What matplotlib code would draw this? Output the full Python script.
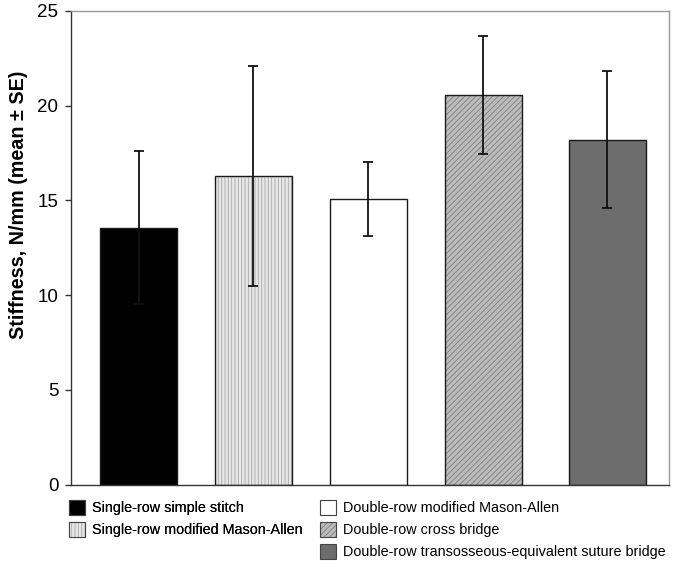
import matplotlib
matplotlib.use("Agg")
import matplotlib.pyplot as plt
import numpy as np
from matplotlib.patches import Patch

plt.rcParams['font.family'] = ['Liberation Sans', 'DejaVu Sans']
plt.rcParams['hatch.linewidth'] = 0.6

categories = ["Single-row simple stitch",
              "Single-row modified Mason-Allen",
              "Double-row modified Mason-Allen",
              "Double-row cross bridge",
              "Double-row transosseous-equivalent suture bridge"]
means = [13.57, 16.28, 15.06, 20.57, 18.2]
se = [4.05, 5.8, 1.95, 3.1, 3.6]
yticks = [0, 5, 10, 15, 20, 25]

faces = ['#000000', '#e6e6e6', '#ffffff', '#bcbcbc', '#6d6d6d']
hatches = [None, '|||||', None, '//////', None]
hatchcols = [None, '#a8a8a8', None, '#7d7d7d', None]

fig = plt.figure(figsize=(6.74, 5.69), dpi=100)
ax = fig.add_axes([0.105, 0.148, 0.888, 0.833])

x = np.arange(len(means), dtype=float)
x[4] += 0.08
bars = ax.bar(x, means, width=0.67, color=faces, edgecolor='#1a1a1a', linewidth=1.0, zorder=2)
for b, h, hc in zip(bars, hatches, hatchcols):
    if h:
        b.set_hatch(h)
        b._hatch_color = matplotlib.colors.to_rgba(hc)
ax.errorbar(x, means, yerr=se, fmt='none', ecolor='#111111', elinewidth=1.3,
            capsize=3.5, capthick=1.3, zorder=3)

ax.set_xlim(-0.59, 4.62)
ax.set_ylim(0, 25)
ax.set_yticks(yticks)
ax.set_yticklabels([str(t) for t in yticks], fontsize=13.5)
ax.set_xticks([])
ax.tick_params(axis='y', direction='out', length=4, width=1, color='#333333', pad=5)
ax.set_ylabel("Stiffness, N/mm (mean \u00b1 SE)", fontsize=14.2, fontweight='bold')
ax.yaxis.set_label_coords(-0.072, 0.5915)
for s in ['top', 'right']:
    ax.spines[s].set_color('#999999')
for s in ['left', 'bottom']:
    ax.spines[s].set_color('#333333')
for s in ax.spines.values():
    s.set_linewidth(1.0)

handles = []
for f, h, hc in zip(faces, hatches, hatchcols):
    p = Patch(facecolor=f, edgecolor='#444444', linewidth=0.8, hatch=h)
    if h:
        p._hatch_color = matplotlib.colors.to_rgba(hc)
    handles.append(p)

legkw = dict(loc='upper left', frameon=False, fontsize=10.4,
             handlelength=1.1, handleheight=1.2, handletextpad=0.45,
             labelspacing=0.45, borderpad=0, borderaxespad=0)
leg1 = fig.legend(handles[0:2], categories[0:2],
                  bbox_to_anchor=(0.103, 0.121), **legkw)
leg2 = fig.legend(handles[2:5], categories[2:5],
                  bbox_to_anchor=(0.475, 0.121), **legkw)
fig.add_artist(leg1)

fig.savefig("out.png", dpi=100)
